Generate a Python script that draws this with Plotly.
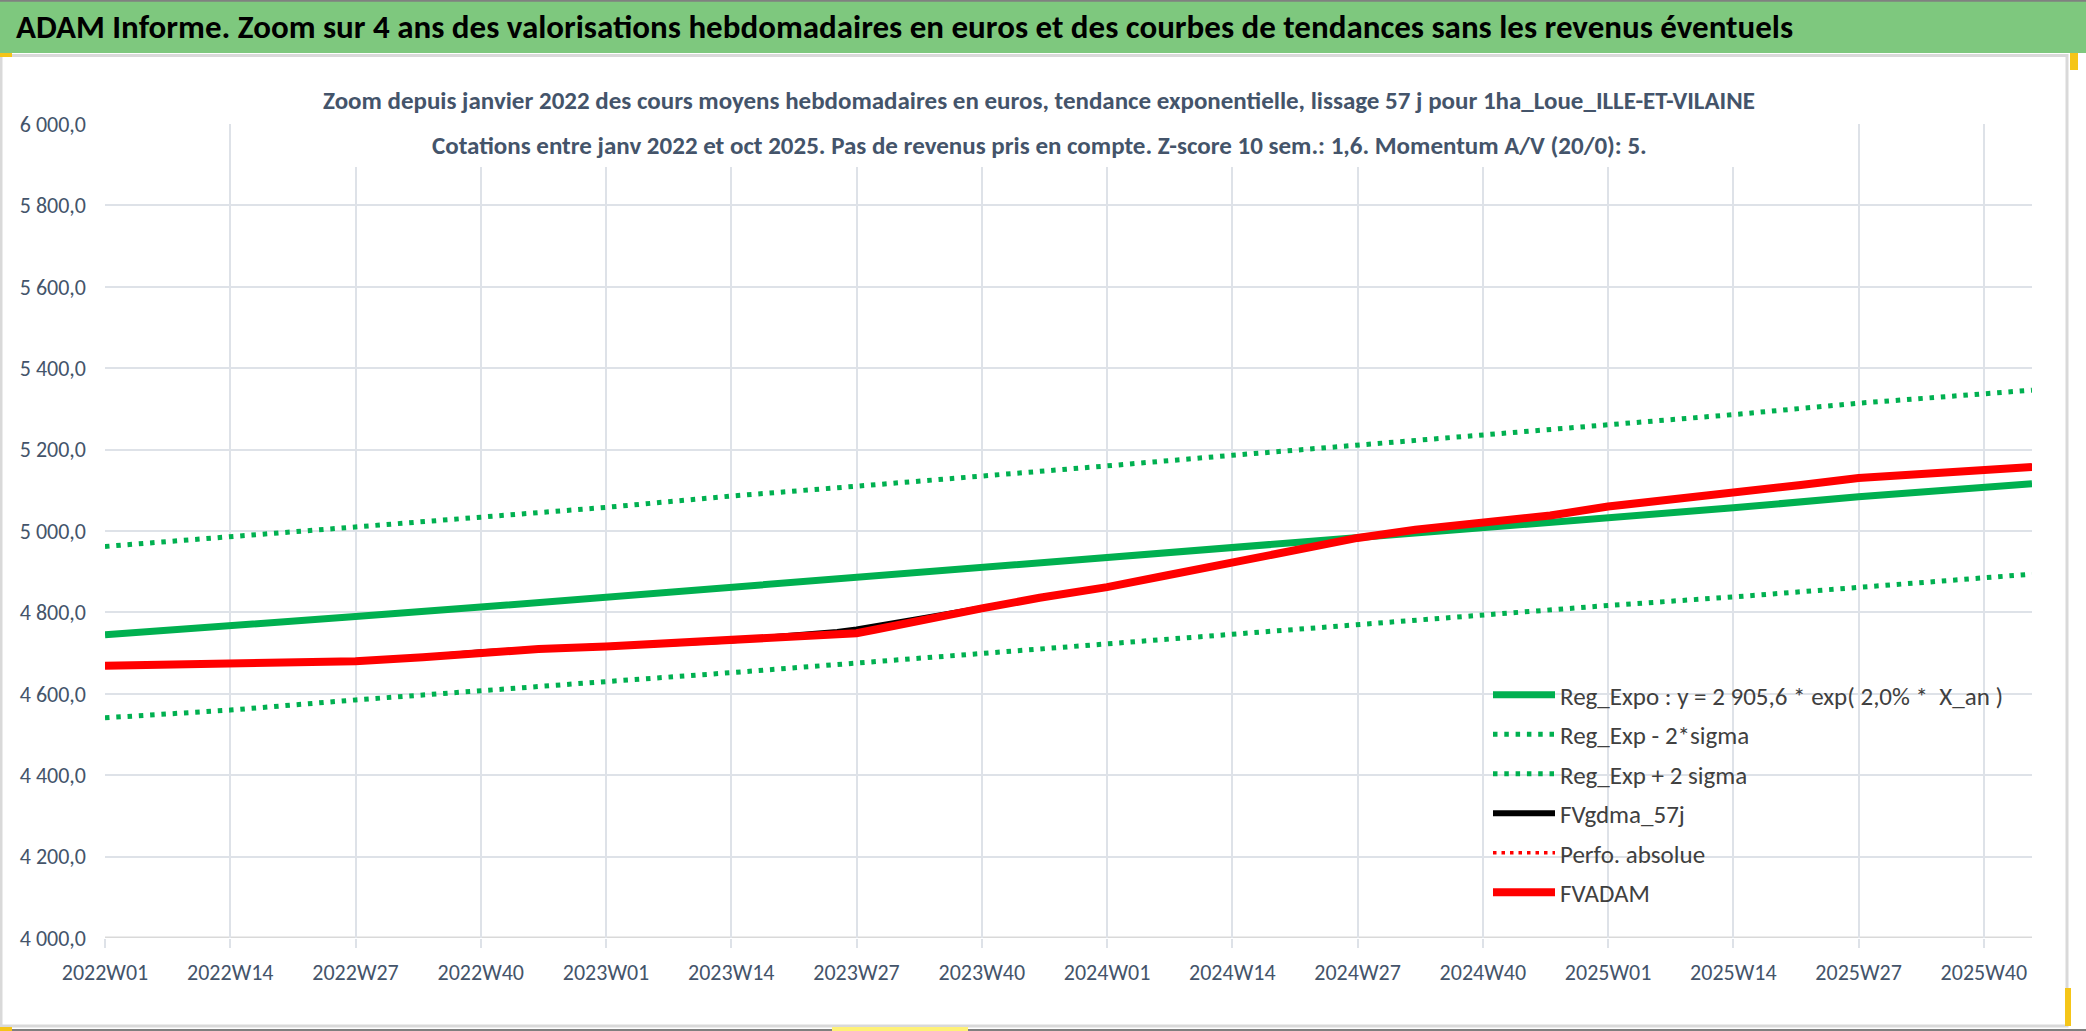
import plotly.graph_objects as go

# ---------------- data ----------------
YEARS = [2022, 2023, 2024, 2025]
WEEKS = [f"{y}W{w:02d}" for y in YEARS for w in range(1, 53)][:201]   # 2022W01 .. 2025W45
TICK_WEEKS = WEEKS[0:201:13]                                          # 2022W01, 2022W14, ...

# trend lines (read at every labelled week + last week)
TREND_WEEKS = TICK_WEEKS + ["2025W45"]
REG_EXPO = [4745, 4766, 4790, 4813, 4837, 4862, 4887, 4910, 4936, 4961, 4985,
            5007, 5031, 5057, 5084, 5107, 5116]
REG_UPPER = [4962, 4985, 5008, 5034, 5058, 5086, 5110, 5134, 5160, 5186, 5211,
             5236, 5260, 5286, 5314, 5338, 5346]
REG_LOWER = [4541, 4560, 4585, 4609, 4630, 4652, 4676, 4700, 4722, 4746, 4771,
             4793, 4817, 4838, 4862, 4887, 4894]

# FVADAM (red)
ADAM_WEEKS = ["2022W01", "2022W07", "2022W14", "2022W21", "2022W27", "2022W34", "2022W40",
              "2022W46", "2023W01", "2023W07", "2023W14", "2023W20", "2023W25", "2023W27",
              "2023W29", "2023W33", "2023W40", "2023W46", "2024W01", "2024W07", "2024W14",
              "2024W20", "2024W27", "2024W33", "2024W40", "2024W47", "2025W01", "2025W05",
              "2025W14", "2025W21", "2025W27", "2025W34", "2025W40", "2025W45"]
FVADAM = [4669, 4672, 4675, 4677, 4680, 4690, 4702, 4710, 4716, 4723, 4730, 4738, 4746,
          4749, 4758, 4778, 4810, 4836, 4862, 4890, 4923, 4953, 4983, 5003, 5019, 5038,
          5060, 5070, 5095, 5113, 5130, 5142, 5150, 5157]
PERFO_ABS = FVADAM
# FVgdma_57j (black) - smoothed, visible above red around mid-2023
FVGDMA = [4669, 4672, 4675, 4677, 4680, 4690, 4702, 4710, 4716, 4723, 4731, 4741, 4752,
          4758, 4765, 4782, 4810, 4836, 4862, 4890, 4923, 4953, 4983, 5003, 5019, 5038,
          5060, 5070, 5095, 5113, 5130, 5142, 5150, 5157]

Y_TICKS = [4000, 4200, 4400, 4600, 4800, 5000, 5200, 5400, 5600, 5800, 6000]
Y_TICKTEXT = ["4 000,0", "4 200,0", "4 400,0", "4 600,0", "4 800,0", "5 000,0",
              "5 200,0", "5 400,0", "5 600,0", "5 800,0", "6 000,0"]

TITLE = ("ADAM Informe. Zoom sur 4 ans des valorisations hebdomadaires en euros et des "
         "courbes de tendances sans les revenus éventuels")
SUB1 = ("Zoom depuis janvier 2022 des cours moyens hebdomadaires en euros, tendance "
        "exponentielle, lissage 57 j pour 1ha_Loue_ILLE-ET-VILAINE")
SUB2 = ("Cotations entre janv 2022 et oct 2025. Pas de revenus pris en compte. "
        "Z-score 10 sem.: 1,6. Momentum A/V (20/0): 5.")

# ---------------- layout geometry ----------------
W, H = 2086, 1031
L, R, T, B = 105, 2032, 124, 938
PW, PH = R - L, B - T


def px(x):
    return (x - L) / PW


def py(y):
    return (B - y) / PH


FONT = "Carlito, Lato, sans-serif"
GREEN = "#00B050"
RED = "#FF0000"
GRID = "#DEE2E8"
TXT = "#44546A"

fig = go.Figure()
fig.add_trace(go.Scatter(x=TREND_WEEKS, y=REG_EXPO, mode="lines",
                         name="Reg_Expo : y = 2 905,6 * exp( 2,0% *  X_an )",
                         line=dict(color=GREEN, width=7), legendgroup="a"))
fig.add_trace(go.Scatter(x=TREND_WEEKS, y=REG_LOWER, mode="lines",
                         name="Reg_Exp - 2*sigma",
                         line=dict(color=GREEN, width=5, dash="4.5px,6.8px"), legendgroup="b"))
fig.add_trace(go.Scatter(x=TREND_WEEKS, y=REG_UPPER, mode="lines",
                         name="Reg_Exp + 2 sigma",
                         line=dict(color=GREEN, width=5, dash="4.5px,6.8px"), legendgroup="c"))
fig.add_trace(go.Scatter(x=ADAM_WEEKS, y=FVGDMA, mode="lines", name="FVgdma_57j",
                         line=dict(color="#000000", width=6), legendgroup="d"))
fig.add_trace(go.Scatter(x=ADAM_WEEKS, y=PERFO_ABS, mode="lines", name="Perfo. absolue",
                         line=dict(color=RED, width=3.5, dash="3.5px,5px"), legendgroup="e"))
fig.add_trace(go.Scatter(x=ADAM_WEEKS, y=FVADAM, mode="lines", name="FVADAM",
                         line=dict(color=RED, width=8), legendgroup="f"))

shapes = [
    # green title band
    dict(type="rect", xref="paper", yref="paper", x0=px(0), x1=px(W), y0=py(53), y1=py(0),
         fillcolor="#7EC87E", line=dict(width=0), layer="above"),
    dict(type="line", xref="paper", yref="paper", x0=px(0), x1=px(W), y0=py(0.8), y1=py(0.8),
         line=dict(color="#808080", width=2), layer="above"),
    # chart frame
    dict(type="rect", xref="paper", yref="paper", x0=px(1), x1=px(2067), y0=py(1026), y1=py(55.5),
         fillcolor="rgba(0,0,0,0)", line=dict(color="#D9D9D9", width=3), layer="above"),
    dict(type="line", xref="paper", yref="paper", x0=px(0), x1=px(W), y0=py(1030), y1=py(1030),
         line=dict(color="#7F7F7F", width=2), layer="above"),
    # white box behind the chart title
    dict(type="rect", xref="paper", yref="paper", x0=px(253), x1=px(1825), y0=py(167), y1=py(60),
         fillcolor="#FFFFFF", line=dict(width=0), layer="above"),
    # selection handles (yellow)
    dict(type="rect", xref="paper", yref="paper", x0=px(0), x1=px(12), y0=py(57), y1=py(53),
         fillcolor="#F5C518", line=dict(width=0), layer="above"),
    dict(type="rect", xref="paper", yref="paper", x0=px(2070), x1=px(2078), y0=py(70), y1=py(53),
         fillcolor="#F5C518", line=dict(width=0), layer="above"),
    dict(type="rect", xref="paper", yref="paper", x0=px(2065), x1=px(2071), y0=py(1026), y1=py(988),
         fillcolor="#F5C518", line=dict(width=0), layer="above"),
    dict(type="rect", xref="paper", yref="paper", x0=px(0), x1=px(12), y0=py(1031), y1=py(1027),
         fillcolor="#F5C518", line=dict(width=0), layer="above"),
    dict(type="rect", xref="paper", yref="paper", x0=px(832), x1=px(968), y0=py(1031), y1=py(1027),
         fillcolor="#FFF176", line=dict(width=0), layer="above"),
]

annotations = [
    dict(text=f"<b>{TITLE}</b>", xref="paper", yref="paper", x=px(14), y=py(27),
         xanchor="left", yanchor="middle", showarrow=False,
         font=dict(family=FONT, size=33, color="#000000")),
    dict(text=f"<b>{SUB1}</b>", xref="paper", yref="paper", x=px(1039), y=py(101),
         xanchor="center", yanchor="middle", showarrow=False,
         font=dict(family=FONT, size=25, color=TXT)),
    dict(text=f"<b>{SUB2}</b>", xref="paper", yref="paper", x=px(1039), y=py(145),
         xanchor="center", yanchor="middle", showarrow=False,
         font=dict(family=FONT, size=25, color=TXT)),
]

fig.update_layout(
    width=W, height=H,
    margin=dict(l=L, r=W - R, t=T, b=H - B, pad=0),
    paper_bgcolor="#FFFFFF", plot_bgcolor="#FFFFFF",
    font=dict(family=FONT, color=TXT),
    shapes=shapes, annotations=annotations,
    showlegend=True,
    legend=dict(x=px(1488), y=py(672), xanchor="left", yanchor="top",
                bgcolor="rgba(0,0,0,0)", font=dict(family=FONT, size=25, color="#404040"),
                traceorder="grouped", tracegroupgap=4, itemwidth=62),
    xaxis=dict(type="category", categoryorder="array", categoryarray=WEEKS,
               range=[0, len(WEEKS) - 1], tickmode="array", tickvals=TICK_WEEKS,
               ticktext=TICK_WEEKS, showgrid=True, gridcolor=GRID, gridwidth=2,
               ticks="outside", ticklen=9, tickcolor=GRID, tickwidth=2,
               showline=False, zeroline=False, ticklabelstandoff=6,
               tickfont=dict(family=FONT, size=22, color=TXT)),
    yaxis=dict(range=[4000, 6000], tickmode="array", tickvals=Y_TICKS, ticktext=Y_TICKTEXT,
               showgrid=True, gridcolor=GRID, gridwidth=2, zeroline=False, showline=False,
               ticks="", ticklabelstandoff=18,
               tickfont=dict(family=FONT, size=22, color=TXT)),
)
# bottom axis line at 4000 slightly darker
fig.add_hline(y=4000, line=dict(color="#D9D9D9", width=3), layer="below")

fig.write_html("out.html", config={"displayModeBar": False},
               post_script="document.body.style.margin='0';document.body.style.overflow='hidden';")
